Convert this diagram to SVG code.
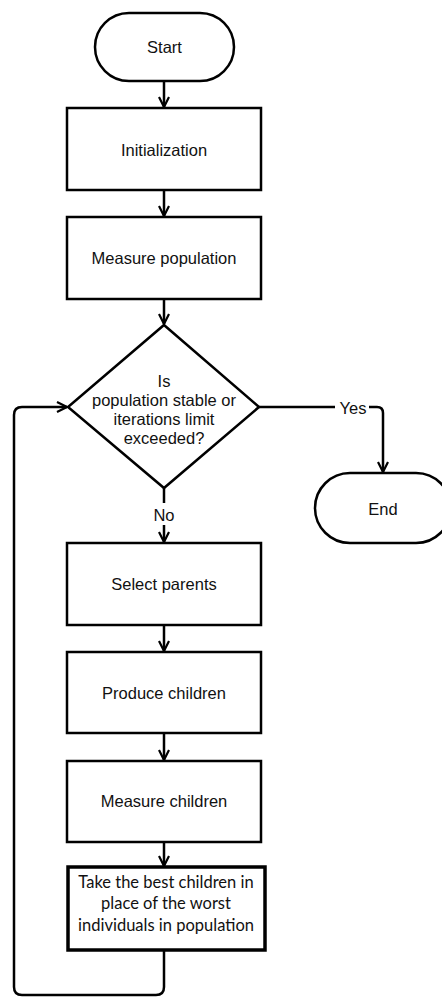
<svg xmlns="http://www.w3.org/2000/svg" width="442" height="1001" viewBox="0 0 442 1001">
<style>
.box{fill:#fff;stroke:#000;stroke-width:2.5}
.t{font-family:"Liberation Sans",Arial,sans-serif;font-size:16.5px;fill:#111;text-anchor:middle;dominant-baseline:central}
.c{font-family:Lato,"Open Sans",sans-serif;font-size:16.5px;fill:#111;text-anchor:middle;dominant-baseline:central}
.ln{fill:none;stroke:#000;stroke-width:2.5}
</style>
<defs>
<marker id="ar" viewBox="0 0 12 12" refX="11" refY="6" markerWidth="12" markerHeight="12" markerUnits="userSpaceOnUse" orient="auto">
<path d="M1,1 L11,6 L1,11" fill="none" stroke="#000" stroke-width="2.2"/>
</marker>
</defs>
<rect width="442" height="1001" fill="#fff"/>
<g id="connectors">
<line class="ln" x1="164" y1="81" x2="164" y2="107" marker-end="url(#ar)"/>
<line class="ln" x1="164" y1="190" x2="164" y2="216" marker-end="url(#ar)"/>
<line class="ln" x1="164" y1="299" x2="164" y2="324" marker-end="url(#ar)"/>
<path class="ln" d="M164,488 V503"/>
<path class="ln" d="M164,525 V542" marker-end="url(#ar)"/>
<line class="ln" x1="164" y1="625" x2="164" y2="651" marker-end="url(#ar)"/>
<line class="ln" x1="164" y1="733" x2="164" y2="760" marker-end="url(#ar)"/>
<line class="ln" x1="164" y1="842" x2="164" y2="866" marker-end="url(#ar)"/>
<path class="ln" d="M259,407 H335"/>
<path class="ln" d="M369,407 H377 Q383,407 383,413 V472" marker-end="url(#ar)"/>
<path class="ln" d="M164,950 V987 Q164,995 156,995 H22 Q14,995 14,987 V415 Q14,407 22,407 H67" marker-end="url(#ar)"/>
<text class="t" x="353" y="408">Yes</text>
<text class="t" x="164" y="515">No</text>
</g>
<g id="start">
<rect class="box" x="95" y="13" width="139" height="68" rx="34"/>
<text class="t" x="164.5" y="47">Start</text>
</g>
<g id="init">
<rect class="box" x="67" y="108" width="194" height="82"/>
<text class="t" x="164" y="150">Initialization</text>
</g>
<g id="measurepop">
<rect class="box" x="67" y="217" width="194" height="82"/>
<text class="t" x="164" y="258">Measure population</text>
</g>
<g id="decision">
<polygon class="box" points="164,325 259,407 164,488 68,407"/>
<text class="t" x="164" y="381">Is</text>
<text class="t" x="164" y="400">population stable or</text>
<text class="t" x="164" y="419">iterations limit</text>
<text class="t" x="164" y="438">exceeded?</text>
</g>
<g id="end">
<rect class="box" x="315" y="473" width="136" height="70" rx="35"/>
<text class="t" x="383" y="509">End</text>
</g>
<g id="select">
<rect class="box" x="67" y="543" width="194" height="82"/>
<text class="t" x="164" y="584">Select parents</text>
</g>
<g id="produce">
<rect class="box" x="67" y="652" width="194" height="81"/>
<text class="t" x="164" y="693">Produce children</text>
</g>
<g id="measurech">
<rect class="box" x="67" y="761" width="194" height="81"/>
<text class="t" x="164" y="801">Measure children</text>
</g>
<g id="replace">
<rect class="box" x="68" y="867" width="197" height="83" style="stroke-width:3.5"/>
<text class="c" x="166" y="882">Take the best children in</text>
<text class="c" x="166" y="903">place of the worst</text>
<text class="c" x="166" y="925">individuals in population</text>
</g>
</svg>
